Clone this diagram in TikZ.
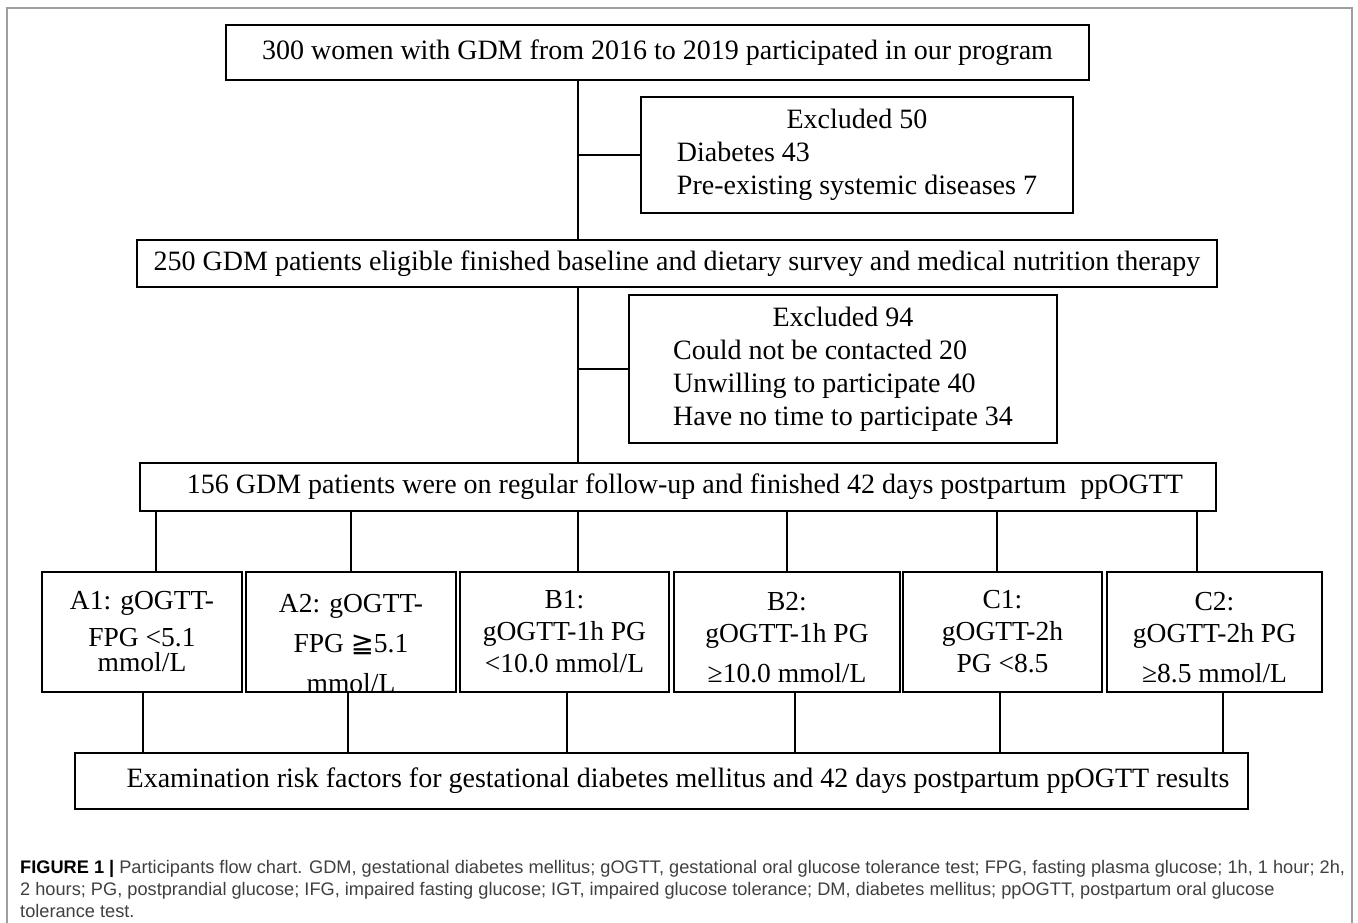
\documentclass[tikz,border=0pt]{standalone}
\usepackage{fontspec}
\setmainfont{Liberation Serif}
\newfontfamily\capfont{Liberation Sans}
\newfontfamily\symfont{DejaVu Sans}
\usetikzlibrary{calc}
\definecolor{framegray}{gray}{0.62}
\definecolor{capgray}{gray}{0.25}
\newcommand{\excl}[2]{\begin{tabular}{@{}l@{}}\multicolumn{1}{@{}c@{}}{#1}\\#2\end{tabular}}

\begin{document}
\begin{tikzpicture}[x=1pt,y=-1pt,
    box/.style={draw, line width=1.6pt, inner sep=0pt, font=\fontsize{28}{33}\selectfont},
    grp/.style={box, minimum height=120, align=center, font=\fontsize{27.5}{32}\selectfont},
    link/.style={line width=1.4pt},
    capline/.style={font=\capfont\fontsize{18.2}{22}\selectfont, text=capgray, inner sep=0pt, anchor=base west}]
  \path[fill=white] (0,0) rectangle (1358,922);
  \useasboundingbox (0,0) rectangle (1358,922);
  \draw[framegray, line width=1.4pt] (7,930) |- (1352,8) -- (1352,930);
  \coordinate (spine) at (578,0);

  \node[box, minimum width=863, minimum height=55] (enrol) at (657.5,52.5) {300 women with GDM from 2016 to 2019 participated in our program};
  \node[box, minimum width=432, minimum height=116] (excl1) at (857,155) {\excl{Excluded 50}{Diabetes 43\\Pre-existing systemic diseases 7}};
  \node[box, minimum width=1080, minimum height=47] (elig) at (677,263.5) {250 GDM patients eligible finished baseline and dietary survey and medical nutrition therapy};
  \node[box, minimum width=428, minimum height=148] (excl2) at (843,369) {\excl{Excluded 94}{Could not be contacted 20\\Unwilling to participate 40\\Have no time to participate 34}};
  \node[box, minimum width=1076, minimum height=48] (follow) at (678,487) {\hspace*{14pt}156 GDM patients were on regular follow-up and finished 42 days postpartum ~ppOGTT};

  \node[grp, minimum width=200] (a1) at (142,632) {A1: gOGTT-\\[5pt]FPG <5.1\\[-7pt]mmol/L};
  \node[grp, minimum width=210] (a2) at (351,632) {};
  \begin{scope}
    \clip (a2.south west) rectangle (a2.north east);
    \node[align=center, inner sep=0pt, font=\fontsize{27.5}{32}\selectfont] (a2txt) at ([yshift=-12]a2.center) {A2: gOGTT-\\[8pt]FPG {\symfont ≧}5.1\\[8pt]mmol/L};
  \end{scope}
  \node[grp, minimum width=209] (b1) at (564.5,632) {B1:\\gOGTT-1h PG\\<10.0 mmol/L};
  \node[grp, minimum width=226] (b2) at (787,632) {\rule{0pt}{29pt}B2:\\gOGTT-1h PG\\[8pt]≥10.0 mmol/L};
  \node[grp, minimum width=199] (c1) at (1002.5,632) {C1:\\gOGTT-2h\\PG <8.5};
  \node[grp, minimum width=215] (c2) at (1214.5,632) {\rule{0pt}{29pt}C2:\\gOGTT-2h PG\\[8pt]≥8.5 mmol/L};

  \node[box, minimum width=1173, minimum height=56] (exam) at (661.5,781) {\hspace*{33pt}Examination risk factors for gestational diabetes mellitus and 42 days postpartum ppOGTT results};

  % main line and exclusions
  \draw[link] (enrol.south -| spine) -- (elig.north -| spine);
  \draw[link] (excl1.west) -- (excl1.west -| spine);
  \draw[link] (elig.south -| spine) -- (follow.north -| spine);
  \draw[link] (excl2.west) -- (excl2.west -| spine);
  % follow-up to groups
  \draw[link] ([xshift=14]a1.north) -- ([xshift=14]a1.north |- follow.south);
  \draw[link] (a2.north) -- (a2.north |- follow.south);
  \draw[link] ([xshift=13.5]b1.north) -- ([xshift=13.5]b1.north |- follow.south);
  \draw[link] (b2.north) -- (b2.north |- follow.south);
  \draw[link] ([xshift=-5.5]c1.north) -- ([xshift=-5.5]c1.north |- follow.south);
  \draw[link] ([xshift=-17.5]c2.north) -- ([xshift=-17.5]c2.north |- follow.south);
  % groups to examination
  \draw[link] ([xshift=1]a1.south) -- ([xshift=1]a1.south |- exam.north);
  \draw[link] ([xshift=-3]a2.south) -- ([xshift=-3]a2.south |- exam.north);
  \draw[link] ([xshift=2.5]b1.south) -- ([xshift=2.5]b1.south |- exam.north);
  \draw[link] ([xshift=8]b2.south) -- ([xshift=8]b2.south |- exam.north);
  \draw[link] ([xshift=-2.5]c1.south) -- ([xshift=-2.5]c1.south |- exam.north);
  \draw[link] ([xshift=8.5]c2.south) -- ([xshift=8.5]c2.south |- exam.north);

  \node[capline] (cap1) at (20,873) {{\color{black}\bfseries FIGURE 1 |} Participants flow chart. GDM, gestational diabetes mellitus; gOGTT, gestational oral glucose tolerance test; FPG, fasting plasma glucose; 1h, 1 hour; 2h,};
  \node[capline] (cap2) at (20,895) {2 hours; PG, postprandial glucose; IFG, impaired fasting glucose; IGT, impaired glucose tolerance; DM, diabetes mellitus; ppOGTT, postpartum oral glucose};
  \node[capline] (cap3) at (20,917) {tolerance test.};
\end{tikzpicture}
\end{document}
